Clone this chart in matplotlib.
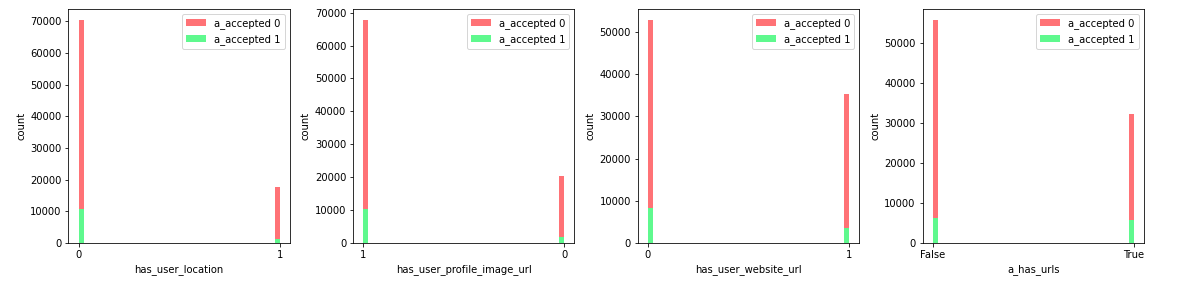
import matplotlib
matplotlib.use("Agg")
import matplotlib.pyplot as plt

features = ["has_user_location", "has_user_profile_image_url",
            "has_user_website_url", "a_has_urls"]
tick_labels = [["0", "1"], ["1", "0"], ["0", "1"], ["False", "True"]]
accepted0 = [[70300, 17700], [67600, 20400], [52700, 35200], [55500, 32300]]
accepted1 = [[10800, 1300], [10200, 1850], [8400, 3600], [6300, 5800]]
series_labels = ["a_accepted 0", "a_accepted 1"]
colors = ["#ff7276", "#5ff98e"]

fig, axes = plt.subplots(1, 4, figsize=(1178 / 72, 284 / 72), dpi=72)
fig.subplots_adjust(left=0.0581, right=0.9711, top=0.967, bottom=0.1444,
                    wspace=0.2867)

for ax, feat, tl, c0, c1 in zip(axes, features, tick_labels, accepted0, accepted1):
    pos = list(range(len(tl)))
    ax.hist(pos, bins=40, range=(0, 1), weights=c0, color=colors[0],
            label=series_labels[0])
    ax.hist(pos, bins=40, range=(0, 1), weights=c1, color=colors[1],
            label=series_labels[1])
    ax.set_xticks(pos)
    ax.set_xticklabels(tl)
    ax.set_xlabel(feat)
    ax.set_ylabel("count")
    ax.legend(loc="upper right")

fig.savefig("out.png", dpi=72)
